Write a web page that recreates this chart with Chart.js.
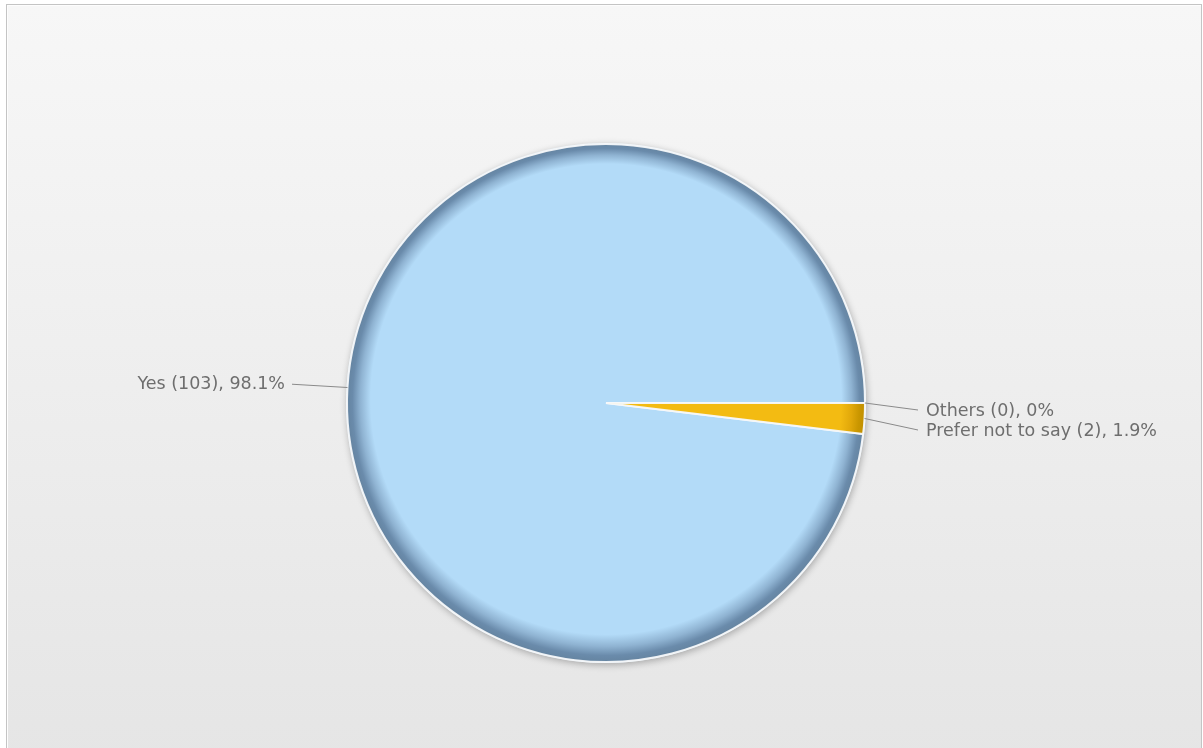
<!DOCTYPE html>
<html>
<head>
<meta charset="utf-8">
<script src="https://cdn.jsdelivr.net/npm/chart.js"></script>
<style>
  html, body { margin: 0; padding: 0; background: #fff; }
  body { width: 1203px; height: 748px; position: relative; overflow: hidden; }
  .frame {
    position: absolute; left: 6px; top: 4px; width: 1194px; height: 760px;
    border: 1px solid #c4c4c4;
    box-shadow: inset 1px 1px 0 #fdfdfd;
    background: linear-gradient(#f7f7f7, #e5e5e5);
  }
  #pie { position: absolute; left: 0; top: 0; }
</style>
</head>
<body>
<div class="frame"></div>
<canvas id="pie" width="1203" height="748"></canvas>
<script>
const categories = ['Yes', 'Others', 'Prefer not to say'];
const counts = [103, 0, 2];

const total = counts.reduce((a, b) => a + b, 0);
const percents = counts.map(v => {
    const p = Math.round(v / total * 1000) / 10;
    return (p % 1 === 0 ? p.toFixed(0) : p.toFixed(1)) + '%';
});

// blue for the main slice, amber for the rest
const sliceTones = [
    ['#b3dbf8', '#8fb3d2', '#6a8bab', '#64839f'],
    ['#f3bb12', '#e1a80a', '#c99600', '#bf8e00'],
    ['#f3bb12', '#e1a80a', '#c99600', '#bf8e00']
];

function pieGeometry(chart) {
    const a = chart.chartArea;
    return {
        x: (a.left + a.right) / 2,
        y: (a.top + a.bottom) / 2,
        r: Math.min(a.right - a.left, a.bottom - a.top) / 2
    };
}

function shadedFill(context) {
    const chart = context.chart;
    const t = sliceTones[context.dataIndex];
    if (!chart.chartArea) return t[0];
    const { x, y, r } = pieGeometry(chart);
    // inner focus sits above centre so the dark rim is heavier at the bottom
    const g = chart.ctx.createRadialGradient(x, y - 40, 0, x, y, r);
    g.addColorStop(0, t[0]);
    g.addColorStop(0.905, t[0]);
    g.addColorStop(0.945, t[1]);
    g.addColorStop(0.975, t[2]);
    g.addColorStop(1, t[3]);
    return g;
}

// soft drop shadow under the whole pie
const pieShadow = {
    id: 'pieShadow',
    beforeDatasetsDraw(chart) {
        const { x, y, r } = pieGeometry(chart);
        const ctx = chart.ctx;
        ctx.save();
        ctx.shadowColor = 'rgba(0,0,0,0.28)';
        ctx.shadowBlur = 7;
        ctx.shadowOffsetX = 1;
        ctx.shadowOffsetY = 2;
        ctx.fillStyle = '#dfe8ef';
        ctx.beginPath();
        ctx.arc(x, y, r, 0, Math.PI * 2);
        ctx.fill();
        ctx.restore();
    }
};

// outside labels with leader lines
const sliceLabels = {
    id: 'sliceLabels',
    afterDatasetsDraw(chart) {
        const ctx = chart.ctx;
        const arcs = chart.getDatasetMeta(0).data;
        const left = [], right = [];
        arcs.forEach((arc, i) => {
            const mid = (arc.startAngle + arc.endAngle) / 2;
            const R = arc.outerRadius;
            const onRight = Math.cos(mid) >= -1e-9;
            const item = {
                text: categories[i] + ' (' + counts[i] + '), ' + percents[i],
                ex: arc.x + Math.cos(mid) * R,
                ey: arc.y + Math.sin(mid) * R,
                cx: arc.x, R: R,
                ly: arc.y + Math.sin(mid) * (R + 55) + (onRight ? 8 : 0)
            };
            (onRight ? right : left).push(item);
        });
        [left, right].forEach(side => {
            side.sort((a, b) => a.ly - b.ly);
            for (let i = 1; i < side.length; i++) {
                if (side[i].ly < side[i - 1].ly + 20) side[i].ly = side[i - 1].ly + 20;
            }
        });
        ctx.save();
        ctx.font = '17.5px "DejaVu Sans", Verdana, sans-serif';
        ctx.textBaseline = 'middle';
        ctx.strokeStyle = '#8a8a8a';
        ctx.lineWidth = 1;
        ctx.fillStyle = '#6e6e6e';
        right.forEach(it => {
            const lx = it.cx + it.R + 53;
            ctx.beginPath();
            ctx.moveTo(it.ex, it.ey);
            ctx.lineTo(lx, it.ly - 1);
            ctx.stroke();
            ctx.textAlign = 'left';
            ctx.fillText(it.text, lx + 8, it.ly);
        });
        left.forEach(it => {
            const lx = it.cx - it.R - 55;
            ctx.beginPath();
            ctx.moveTo(it.ex, it.ey);
            ctx.lineTo(lx, it.ly);
            ctx.stroke();
            ctx.textAlign = 'right';
            ctx.fillText(it.text, lx - 7, it.ly);
        });
        ctx.restore();
    }
};

new Chart(document.getElementById('pie'), {
    type: 'pie',
    data: {
        labels: categories,
        datasets: [{
            data: counts,
            backgroundColor: shadedFill,
            borderColor: 'rgba(246,248,250,0.95)',
            borderWidth: ctx => counts[ctx.dataIndex] === 0 ? 0 : 2
        }]
    },
    options: {
        responsive: false,
        animation: false,
        // last slice starts at three o'clock
        rotation: 90 + 360 * counts[2] / total,
        layout: { padding: { top: 143, bottom: 85, left: 9, right: 0 } },
        plugins: {
            legend: { display: false },
            tooltip: { enabled: false }
        }
    },
    plugins: [pieShadow, sliceLabels]
});
</script>
</body>
</html>
